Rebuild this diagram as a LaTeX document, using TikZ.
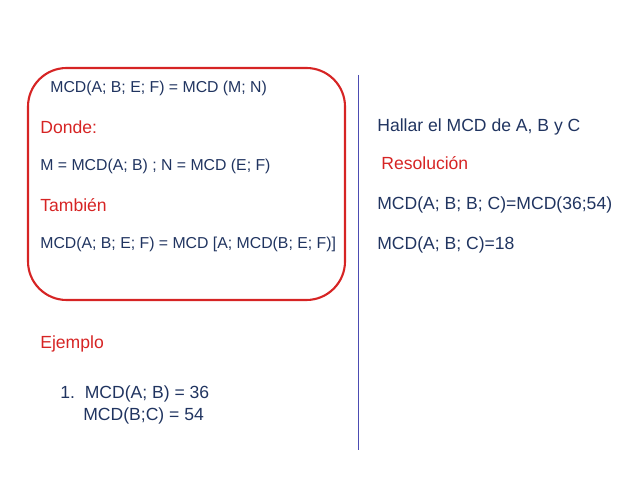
\documentclass[tikz,border=0pt]{standalone}
\usepackage{fontspec}
\setmainfont{Liberation Sans}
\definecolor{navy}{RGB}{32,52,96}
\definecolor{redtxt}{RGB}{214,36,36}
\begin{document}
\begin{tikzpicture}[x=0.02cm,y=-0.02cm]
  \tikzset{txt/.style={anchor=west, inner sep=0pt, color=navy, font=\fontsize{9}{11}\selectfont},
           big/.style={txt, font=\fontsize{10}{12}\selectfont},
           head/.style={txt, color=redtxt, font=\fontsize{10}{12}\selectfont}}
  \useasboundingbox (0,0) rectangle (638,479);
  % caja
  \draw[redtxt, line width=1.2pt, rounded corners=22] (28,68) rectangle (345,300);
  % separador
  \coordinate (top) at (358,75);
  \coordinate (bot) at (358,450);
  \draw[blue!40!gray] (top) -- (bot);
  % izquierda
  \node[txt] (f1) at (50,88) {MCD(A; B; E; F) = MCD (M; N)};
  \node[head] (dn) at (40,127) {Donde:};
  \node[txt] (f2) at (40,166) {M = MCD(A; B) ; N = MCD (E; F)};
  \node[head] (tb) at (40,205) {También};
  \node[txt] (f3) at (40,244) {MCD(A; B; E; F) = MCD [A; MCD(B; E; F)]};
  \node[head] (ej) at (40,344) {Ejemplo};
  \node[big] (e1) at (60,394) {1.\ \ MCD(A; B) = 36};
  \node[big] (e2) at (83,416) {MCD(B;C) = 54};
  % derecha
  \node[big] (h) at (377,127) {Hallar el MCD de A, B y C};
  \node[head] (rs) at (381,163) {Resolución};
  \node[big] (r1) at (377,205) {MCD(A; B; B; C)=MCD(36;54)};
  \node[big] (r2) at (377,245) {MCD(A; B; C)=18};
\end{tikzpicture}
\end{document}
